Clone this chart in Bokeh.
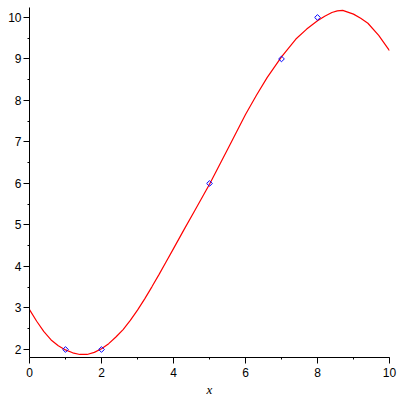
from bokeh.plotting import figure
from bokeh.models import SingleIntervalTicker, Range1d
from bokeh.embed import file_html
from bokeh.resources import INLINE

# data points (blue diamonds)
pts_x = [1, 2, 5, 7, 8]
pts_y = [2, 2, 6, 9, 10]

# fitted curve
curve_x = [0.0, 0.2, 0.4, 0.6, 0.8, 1.0, 1.2, 1.4, 1.6, 1.8, 2.0, 2.2, 2.4, 2.6,
           2.8, 3.0, 3.2, 3.4, 3.6, 3.8, 4.0, 4.3, 4.6, 5.0, 5.5, 6.0, 6.3,
           6.6, 7.0, 7.4, 7.7, 8.0, 8.2, 8.4, 8.55, 8.7, 9.0, 9.2, 9.4, 9.7, 10.0]
curve_y = [2.96, 2.68, 2.43, 2.23, 2.09, 1.99, 1.92, 1.88, 1.88, 1.93, 2.02, 2.14,
           2.30, 2.48, 2.70, 2.95, 3.22, 3.51, 3.81, 4.12, 4.43, 4.90, 5.36, 5.98,
           6.82, 7.66, 8.12, 8.55, 9.05, 9.48, 9.72, 9.92, 10.03, 10.12, 10.16,
           10.17, 10.08, 9.98, 9.86, 9.57, 9.20]

p = figure(frame_width=360, frame_height=350, output_backend="svg", toolbar_location=None,
           x_range=Range1d(0, 10), y_range=Range1d(1.807, 10.24),
           min_border_left=29, min_border_right=11, min_border_top=7,
           min_border_bottom=0)
p.outline_line_color = None
p.xgrid.visible = False
p.ygrid.visible = False
p.background_fill_color = "white"
p.border_fill_color = "white"

p.line(curve_x, curve_y, line_color="#ff0000", line_width=1.2)
p.scatter(pts_x, pts_y, marker="square", angle=0.785398, size=4, line_color="#0000ff",
          fill_color=None, line_width=1)

p.xaxis.ticker = SingleIntervalTicker(interval=2, num_minor_ticks=2)
p.yaxis.ticker = SingleIntervalTicker(interval=1, num_minor_ticks=2)

for ax in (p.xaxis[0], p.yaxis[0]):
    ax.axis_line_color = "black"
    ax.major_tick_line_color = "black"
    ax.minor_tick_line_color = "black"
    ax.major_tick_out = 6
    ax.major_tick_in = 0
    ax.minor_tick_out = 2
    ax.minor_tick_in = 0
    ax.major_label_text_font = "Liberation Sans"
    ax.major_label_text_font_size = "12px"
    ax.major_label_text_color = "black"

p.yaxis.major_label_standoff = 2
p.xaxis.major_label_standoff = 4
p.xaxis.axis_label = "x"
p.xaxis.axis_label_text_font = "Liberation Serif"
p.xaxis.axis_label_text_font_style = "italic"
p.xaxis.axis_label_text_font_size = "13px"
p.xaxis.axis_label_text_color = "black"
p.xaxis.axis_label_standoff = 2

open("out.html", "w").write(file_html(p, INLINE))
